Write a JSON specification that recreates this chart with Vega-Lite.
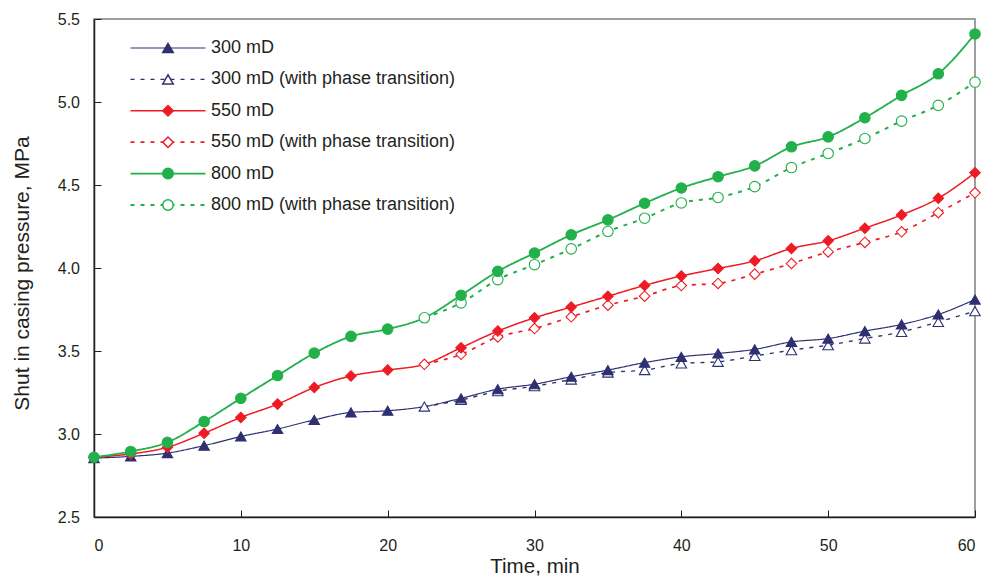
{
  "$schema": "https://vega.github.io/schema/vega-lite/v6.json",
  "autosize": {"type": "none"},
  "padding": {"left": 94, "top": 19, "right": 9, "bottom": 59},
  "width": 881,
  "height": 498,
  "background": "white",
  "config": {
    "font": "Liberation Sans",
    "view": {"stroke": "#7f7f7f", "strokeWidth": 1.5},
    "axis": {
      "grid": false,
      "labelFont": "Liberation Sans",
      "labelFontSize": 16,
      "labelColor": "#231f20",
      "titleFont": "Liberation Sans",
      "titleFontWeight": "normal",
      "titleColor": "#231f20",
      "domainColor": "#231f20",
      "domainWidth": 1.5,
      "tickColor": "#231f20",
      "tickWidth": 1,
      "tickSize": -7
    },
    "legend": {
      "labelFont": "Liberation Sans",
      "labelFontSize": 18,
      "labelColor": "#231f20",
      "labelLimit": 0,
      "padding": 0,
      "rowPadding": 13.4,
      "direction": "vertical",
      "orient": "none"
    }
  },
  "data": {
    "values": [
      {"t": 0, "p": 2.855, "series": "300 mD"},
      {"t": 2.5, "p": 2.865, "series": "300 mD"},
      {"t": 5, "p": 2.885, "series": "300 mD"},
      {"t": 7.5, "p": 2.93, "series": "300 mD"},
      {"t": 10, "p": 2.985, "series": "300 mD"},
      {"t": 12.5, "p": 3.03, "series": "300 mD"},
      {"t": 15, "p": 3.085, "series": "300 mD"},
      {"t": 17.5, "p": 3.13, "series": "300 mD"},
      {"t": 20, "p": 3.14, "series": "300 mD"},
      {"t": 22.5, "p": 3.165, "series": "300 mD"},
      {"t": 25, "p": 3.215, "series": "300 mD"},
      {"t": 27.5, "p": 3.27, "series": "300 mD"},
      {"t": 30, "p": 3.3, "series": "300 mD"},
      {"t": 32.5, "p": 3.345, "series": "300 mD"},
      {"t": 35, "p": 3.385, "series": "300 mD"},
      {"t": 37.5, "p": 3.43, "series": "300 mD"},
      {"t": 40, "p": 3.465, "series": "300 mD"},
      {"t": 42.5, "p": 3.485, "series": "300 mD"},
      {"t": 45, "p": 3.51, "series": "300 mD"},
      {"t": 47.5, "p": 3.555, "series": "300 mD"},
      {"t": 50, "p": 3.575, "series": "300 mD"},
      {"t": 52.5, "p": 3.62, "series": "300 mD"},
      {"t": 55, "p": 3.66, "series": "300 mD"},
      {"t": 57.5, "p": 3.72, "series": "300 mD"},
      {"t": 60, "p": 3.81, "series": "300 mD"},

      {"t": 22.5, "p": 3.165, "series": "300 mD (with phase transition)"},
      {"t": 25, "p": 3.205, "series": "300 mD (with phase transition)"},
      {"t": 27.5, "p": 3.258, "series": "300 mD (with phase transition)"},
      {"t": 30, "p": 3.288, "series": "300 mD (with phase transition)"},
      {"t": 32.5, "p": 3.328, "series": "300 mD (with phase transition)"},
      {"t": 35, "p": 3.37, "series": "300 mD (with phase transition)"},
      {"t": 37.5, "p": 3.385, "series": "300 mD (with phase transition)"},
      {"t": 40, "p": 3.425, "series": "300 mD (with phase transition)"},
      {"t": 42.5, "p": 3.435, "series": "300 mD (with phase transition)"},
      {"t": 45, "p": 3.47, "series": "300 mD (with phase transition)"},
      {"t": 47.5, "p": 3.505, "series": "300 mD (with phase transition)"},
      {"t": 50, "p": 3.535, "series": "300 mD (with phase transition)"},
      {"t": 52.5, "p": 3.575, "series": "300 mD (with phase transition)"},
      {"t": 55, "p": 3.615, "series": "300 mD (with phase transition)"},
      {"t": 57.5, "p": 3.675, "series": "300 mD (with phase transition)"},
      {"t": 60, "p": 3.74, "series": "300 mD (with phase transition)"},

      {"t": 0, "p": 2.86, "series": "550 mD"},
      {"t": 2.5, "p": 2.88, "series": "550 mD"},
      {"t": 5, "p": 2.92, "series": "550 mD"},
      {"t": 7.5, "p": 3.005, "series": "550 mD"},
      {"t": 10, "p": 3.1, "series": "550 mD"},
      {"t": 12.5, "p": 3.18, "series": "550 mD"},
      {"t": 15, "p": 3.28, "series": "550 mD"},
      {"t": 17.5, "p": 3.35, "series": "550 mD"},
      {"t": 20, "p": 3.385, "series": "550 mD"},
      {"t": 22.5, "p": 3.42, "series": "550 mD"},
      {"t": 25, "p": 3.52, "series": "550 mD"},
      {"t": 27.5, "p": 3.62, "series": "550 mD"},
      {"t": 30, "p": 3.7, "series": "550 mD"},
      {"t": 32.5, "p": 3.765, "series": "550 mD"},
      {"t": 35, "p": 3.83, "series": "550 mD"},
      {"t": 37.5, "p": 3.895, "series": "550 mD"},
      {"t": 40, "p": 3.952, "series": "550 mD"},
      {"t": 42.5, "p": 3.997, "series": "550 mD"},
      {"t": 45, "p": 4.043, "series": "550 mD"},
      {"t": 47.5, "p": 4.118, "series": "550 mD"},
      {"t": 50, "p": 4.164, "series": "550 mD"},
      {"t": 52.5, "p": 4.24, "series": "550 mD"},
      {"t": 55, "p": 4.32, "series": "550 mD"},
      {"t": 57.5, "p": 4.42, "series": "550 mD"},
      {"t": 60, "p": 4.574, "series": "550 mD"},

      {"t": 22.5, "p": 3.42, "series": "550 mD (with phase transition)"},
      {"t": 25, "p": 3.48, "series": "550 mD (with phase transition)"},
      {"t": 27.5, "p": 3.585, "series": "550 mD (with phase transition)"},
      {"t": 30, "p": 3.635, "series": "550 mD (with phase transition)"},
      {"t": 32.5, "p": 3.706, "series": "550 mD (with phase transition)"},
      {"t": 35, "p": 3.776, "series": "550 mD (with phase transition)"},
      {"t": 37.5, "p": 3.83, "series": "550 mD (with phase transition)"},
      {"t": 40, "p": 3.894, "series": "550 mD (with phase transition)"},
      {"t": 42.5, "p": 3.907, "series": "550 mD (with phase transition)"},
      {"t": 45, "p": 3.963, "series": "550 mD (with phase transition)"},
      {"t": 47.5, "p": 4.027, "series": "550 mD (with phase transition)"},
      {"t": 50, "p": 4.097, "series": "550 mD (with phase transition)"},
      {"t": 52.5, "p": 4.154, "series": "550 mD (with phase transition)"},
      {"t": 55, "p": 4.218, "series": "550 mD (with phase transition)"},
      {"t": 57.5, "p": 4.333, "series": "550 mD (with phase transition)"},
      {"t": 60, "p": 4.453, "series": "550 mD (with phase transition)"},

      {"t": 0, "p": 2.86, "series": "800 mD"},
      {"t": 2.5, "p": 2.895, "series": "800 mD"},
      {"t": 5, "p": 2.95, "series": "800 mD"},
      {"t": 7.5, "p": 3.075, "series": "800 mD"},
      {"t": 10, "p": 3.215, "series": "800 mD"},
      {"t": 12.5, "p": 3.352, "series": "800 mD"},
      {"t": 15, "p": 3.487, "series": "800 mD"},
      {"t": 17.5, "p": 3.588, "series": "800 mD"},
      {"t": 20, "p": 3.632, "series": "800 mD"},
      {"t": 22.5, "p": 3.7, "series": "800 mD"},
      {"t": 25, "p": 3.836, "series": "800 mD"},
      {"t": 27.5, "p": 3.98, "series": "800 mD"},
      {"t": 30, "p": 4.09, "series": "800 mD"},
      {"t": 32.5, "p": 4.2, "series": "800 mD"},
      {"t": 35, "p": 4.29, "series": "800 mD"},
      {"t": 37.5, "p": 4.39, "series": "800 mD"},
      {"t": 40, "p": 4.482, "series": "800 mD"},
      {"t": 42.5, "p": 4.55, "series": "800 mD"},
      {"t": 45, "p": 4.615, "series": "800 mD"},
      {"t": 47.5, "p": 4.73, "series": "800 mD"},
      {"t": 50, "p": 4.79, "series": "800 mD"},
      {"t": 52.5, "p": 4.905, "series": "800 mD"},
      {"t": 55, "p": 5.04, "series": "800 mD"},
      {"t": 57.5, "p": 5.17, "series": "800 mD"},
      {"t": 60, "p": 5.41, "series": "800 mD"},

      {"t": 22.5, "p": 3.7, "series": "800 mD (with phase transition)"},
      {"t": 25, "p": 3.79, "series": "800 mD (with phase transition)"},
      {"t": 27.5, "p": 3.93, "series": "800 mD (with phase transition)"},
      {"t": 30, "p": 4.02, "series": "800 mD (with phase transition)"},
      {"t": 32.5, "p": 4.115, "series": "800 mD (with phase transition)"},
      {"t": 35, "p": 4.22, "series": "800 mD (with phase transition)"},
      {"t": 37.5, "p": 4.3, "series": "800 mD (with phase transition)"},
      {"t": 40, "p": 4.392, "series": "800 mD (with phase transition)"},
      {"t": 42.5, "p": 4.425, "series": "800 mD (with phase transition)"},
      {"t": 45, "p": 4.49, "series": "800 mD (with phase transition)"},
      {"t": 47.5, "p": 4.605, "series": "800 mD (with phase transition)"},
      {"t": 50, "p": 4.69, "series": "800 mD (with phase transition)"},
      {"t": 52.5, "p": 4.78, "series": "800 mD (with phase transition)"},
      {"t": 55, "p": 4.885, "series": "800 mD (with phase transition)"},
      {"t": 57.5, "p": 4.98, "series": "800 mD (with phase transition)"},
      {"t": 60, "p": 5.12, "series": "800 mD (with phase transition)"}
    ]
  },
  "encoding": {
    "x": {
      "field": "t",
      "type": "quantitative",
      "scale": {"domain": [0, 60], "nice": false},
      "axis": {
        "title": "Time, min",
        "titleFontSize": 20.6,
        "values": [0, 10, 20, 30, 40, 50, 60],
        "labelPadding": 27,
        "titlePadding": 3
      }
    },
    "y": {
      "field": "p",
      "type": "quantitative",
      "scale": {"domain": [2.5, 5.5], "nice": false, "zero": false},
      "axis": {
        "title": "Shut in casing pressure, MPa",
        "titleFontSize": 21,
        "titleY": 254,
        "values": [2.5, 3, 3.5, 4, 4.5, 5, 5.5],
        "format": ".1f",
        "labelPadding": 21.5,
        "titlePadding": 25
      }
    }
  },
  "layer": [
    {
      "mark": {"type": "line", "interpolate": "monotone"},
      "encoding": {
        "color": {
          "field": "series",
          "type": "nominal",
          "scale": {
            "domain": ["300 mD", "300 mD (with phase transition)", "550 mD", "550 mD (with phase transition)", "800 mD", "800 mD (with phase transition)"],
            "range": ["#2e3071", "#2e3071", "#ed1c24", "#ed1c24", "#22b04b", "#22b04b"]
          },
          "legend": {
            "title": null,
            "symbolType": "M-7.5,0H7.5",
            "symbolSize": 100,
            "labelOffset": 34,
            "legendX": 65,
            "legendY": 20
          }
        },
        "strokeDash": {
          "field": "series",
          "type": "nominal",
          "scale": {
            "domain": ["300 mD", "300 mD (with phase transition)", "550 mD", "550 mD (with phase transition)", "800 mD", "800 mD (with phase transition)"],
            "range": [[1, 0], [4, 6], [1, 0], [4, 6], [1, 0], [4, 6]]
          }
        },
        "strokeWidth": {
          "field": "series",
          "type": "nominal",
          "scale": {
            "domain": ["300 mD", "300 mD (with phase transition)", "550 mD", "550 mD (with phase transition)", "800 mD", "800 mD (with phase transition)"],
            "range": [1.2, 2, 1.2, 2, 1.2, 2]
          }
        }
      }
    },
    {
      "transform": [{"filter": "indexof(datum.series, 'phase') >= 0"}],
      "mark": {"type": "point", "filled": false, "opacity": 1, "strokeWidth": 1.1},
      "encoding": {
        "shape": {
          "field": "series",
          "type": "nominal",
          "scale": {"range": ["triangle-up", "triangle-up", "diamond", "diamond", "circle", "circle"]},
          "legend": {
            "title": null,
            "labelOffset": 34,
            "labelOpacity": 0,
            "legendX": 65,
            "legendY": 20
          }
        },
        "fill": {
          "field": "series",
          "type": "nominal",
          "scale": {"range": ["#2e3071", "#ffffff", "#ed1c24", "#ffffff", "#22b04b", "#ffffff"]}
        },
        "stroke": {
          "field": "series",
          "type": "nominal",
          "scale": {"range": ["#2e3071", "#2e3071", "#ed1c24", "#ed1c24", "#22b04b", "#22b04b"]}
        },
        "size": {
          "field": "series",
          "type": "nominal",
          "scale": {"range": [110, 110, 90, 90, 80, 80]}
        }
      }
    },
    {
      "transform": [{"filter": "indexof(datum.series, 'phase') < 0 && datum.t != 22.5"}],
      "mark": {"type": "point", "filled": false, "opacity": 1, "strokeWidth": 1.1},
      "encoding": {
        "shape": {"field": "series", "type": "nominal"},
        "fill": {"field": "series", "type": "nominal"},
        "stroke": {"field": "series", "type": "nominal"},
        "size": {"field": "series", "type": "nominal"}
      }
    }
  ]
}
